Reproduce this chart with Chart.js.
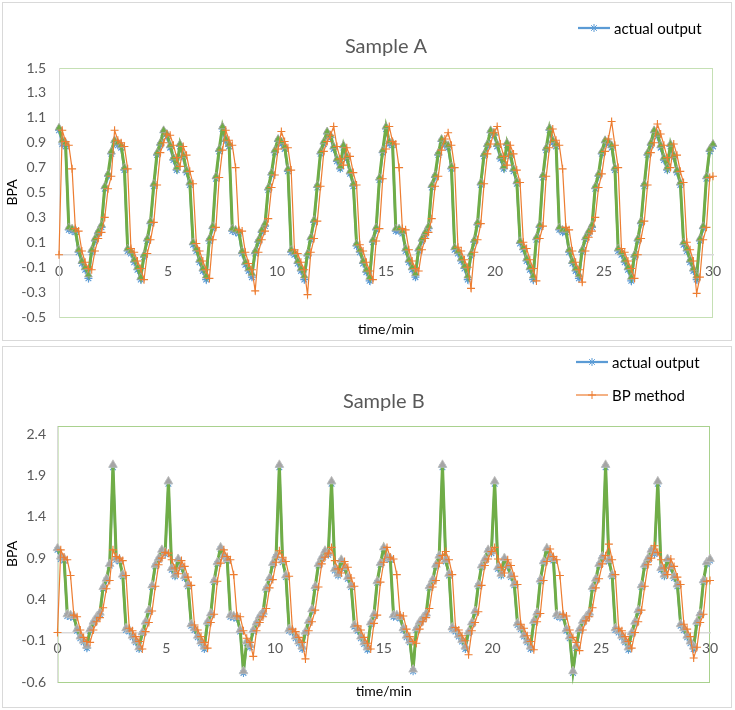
<!DOCTYPE html>
<html>
<head>
<meta charset="utf-8">
<script src="https://cdn.jsdelivr.net/npm/chart.js@4/dist/chart.umd.min.js"></script>
<style>
html,body{margin:0;padding:0;background:#fff;}
body{width:735px;height:710px;position:relative;overflow:hidden;font-family:Lato,"Liberation Sans",sans-serif;}
.panel{position:absolute;left:2px;width:728px;border:1px solid #d9d9d9;background:#fff;}
#pA{top:2px;height:337px;}
#pB{top:346px;height:360px;}
.panel canvas.chart{position:absolute;left:0;top:0;}
.legend{position:absolute;font-size:15px;color:#000;}
.legend .item{display:flex;align-items:center;height:20px;white-space:nowrap;}
.legend canvas{margin-right:4px;}
#legA{left:575px;top:15px;}
#legB{left:573px;top:5px;}
#legB .item{margin-bottom:13px;}
</style>
</head>
<body>
<div class="panel" id="pA">
  <canvas class="chart" id="cA" width="728" height="337"></canvas>
  <div class="legend" id="legA"></div>
</div>
<div class="panel" id="pB">
  <canvas class="chart" id="cB" width="728" height="360"></canvas>
  <div class="legend" id="legB"></div>
</div>
<script>
const time = [
0,0.15,0.3,0.45,0.6,0.75,0.9,1.05,1.2,1.35,1.5,1.65,1.8,1.95,2.1,2.25,2.4,2.55,2.7,2.85,3,3.15,3.3,3.45,3.6,3.75,3.9,4.05,4.2,4.35,4.5,4.65,4.8,4.95,5.1,5.25,5.4,5.55,5.7,5.85,6,6.15,6.3,6.45,6.6,6.75,6.9,7.05,7.2,7.35,
7.5,7.65,7.8,7.95,8.1,8.25,8.4,8.55,8.7,8.85,9,9.15,9.3,9.45,9.6,9.75,9.9,10.05,10.2,10.35,10.5,10.65,10.8,10.95,11.1,11.25,11.4,11.55,11.7,11.85,12,12.15,12.3,12.45,12.6,12.75,12.9,13.05,13.2,13.35,13.5,13.65,13.8,13.95,14.1,14.25,14.4,14.55,14.7,14.85,
15,15.15,15.3,15.45,15.6,15.75,15.9,16.05,16.2,16.35,16.5,16.65,16.8,16.95,17.1,17.25,17.4,17.55,17.7,17.85,18,18.15,18.3,18.45,18.6,18.75,18.9,19.05,19.2,19.35,19.5,19.65,19.8,19.95,20.1,20.25,20.4,20.55,20.7,20.85,21,21.15,21.3,21.45,21.6,21.75,21.9,22.05,22.2,22.35,
22.5,22.65,22.8,22.95,23.1,23.25,23.4,23.55,23.7,23.85,24,24.15,24.3,24.45,24.6,24.75,24.9,25.05,25.2,25.35,25.5,25.65,25.8,25.95,26.1,26.25,26.4,26.55,26.7,26.85,27,27.15,27.3,27.45,27.6,27.75,27.9,28.05,28.2,28.35,28.5,28.65,28.8,28.95,29.1,29.25,29.4,29.55,29.7,29.85,30];

const actualA = [
1.00,0.89,0.87,0.20,0.19,0.18,0.02,-0.07,-0.12,-0.19,
0.02,0.11,0.17,0.22,0.53,0.63,0.81,0.90,0.88,0.86,
0.68,0.03,0.01,-0.06,-0.12,-0.20,-0.02,0.11,0.25,0.55,
0.80,0.88,0.98,0.95,0.86,0.76,0.68,0.87,0.78,0.66,
0.56,0.08,0.03,-0.06,-0.13,-0.20,0.11,0.21,0.61,0.83,
1.01,0.91,0.87,0.19,0.18,0.17,0.01,-0.08,-0.13,-0.18,
0.01,0.10,0.18,0.23,0.52,0.64,0.82,0.91,0.89,0.85,
0.67,0.02,0.00,-0.07,-0.13,-0.20,-0.01,0.12,0.26,0.54,
0.81,0.89,0.97,0.94,0.85,0.75,0.69,0.86,0.77,0.65,
0.55,0.07,0.02,-0.07,-0.14,-0.21,0.10,0.20,0.60,0.82,
1.01,0.89,0.88,0.19,0.19,0.17,0.03,-0.06,-0.12,-0.18,
0.03,0.11,0.16,0.21,0.54,0.62,0.80,0.91,0.88,0.86,
0.69,0.04,0.01,-0.05,-0.11,-0.20,-0.01,0.10,0.24,0.56,
0.79,0.87,0.98,0.96,0.87,0.77,0.69,0.88,0.79,0.67,
0.57,0.09,0.04,-0.05,-0.12,-0.20,0.12,0.22,0.62,0.84,
1.00,0.90,0.87,0.20,0.18,0.18,0.02,-0.07,-0.13,-0.19,
0.02,0.12,0.17,0.22,0.53,0.63,0.81,0.90,0.89,0.86,
0.68,0.03,0.00,-0.06,-0.12,-0.21,-0.02,0.11,0.25,0.55,
0.80,0.88,0.98,0.95,0.86,0.76,0.68,0.87,0.78,0.66,
0.56,0.08,0.03,-0.06,-0.13,-0.20,0.11,0.21,0.61,0.83,
0.87];

const bpA = [
0.00,1.00,0.91,0.88,0.69,0.21,0.19,0.03,-0.06,-0.11,
-0.12,0.03,0.13,0.18,0.30,0.53,0.63,1.00,0.92,0.90,
0.87,0.69,0.05,0.02,-0.05,-0.11,-0.20,0.01,0.12,0.26,
0.56,0.82,0.90,0.97,0.96,0.88,0.78,0.71,0.87,0.80,
0.67,0.57,0.09,0.03,-0.05,-0.12,-0.19,0.12,0.22,0.62,
0.84,1.00,0.92,0.88,0.70,0.20,0.19,0.02,-0.07,-0.12,
-0.29,0.02,0.12,0.19,0.29,0.54,0.64,0.85,0.99,0.91,
0.86,0.68,0.04,0.01,-0.06,-0.12,-0.32,0.02,0.13,0.27,
0.55,0.83,0.91,0.96,1.03,0.87,0.77,0.72,0.86,0.79,
0.66,0.56,0.08,0.03,-0.06,-0.13,-0.20,0.11,0.21,0.61,
0.85,1.03,0.91,0.89,0.70,0.21,0.20,0.04,-0.05,-0.11,
-0.13,0.04,0.13,0.18,0.29,0.55,0.63,0.84,0.93,0.98,
0.88,0.70,0.06,0.03,-0.04,-0.10,-0.27,0.02,0.12,0.25,
0.57,0.81,0.89,0.98,1.03,0.89,0.79,0.72,0.88,0.81,
0.68,0.58,0.10,0.05,-0.04,-0.11,-0.21,0.13,0.23,0.63,
0.86,1.01,0.92,0.88,0.69,0.22,0.20,0.03,-0.06,-0.12,
-0.22,0.03,0.14,0.19,0.30,0.54,0.65,0.83,0.93,1.07,
0.88,0.70,0.05,0.02,-0.05,-0.11,-0.19,0.00,0.13,0.27,
0.56,0.82,0.90,1.05,0.97,0.88,0.78,0.70,0.89,0.80,
0.67,0.58,0.10,0.04,-0.05,-0.31,-0.18,0.12,0.22,0.62,
0.63];

const fittedA = [
1.02,0.92,0.90,0.22,0.21,0.20,0.04,-0.05,-0.10,-0.16,
0.04,0.13,0.19,0.24,0.55,0.65,0.83,0.92,0.90,0.88,
0.70,0.05,0.03,-0.04,-0.10,-0.18,0.00,0.13,0.27,0.57,
0.82,0.90,1.00,0.97,0.88,0.78,0.70,0.89,0.80,0.68,
0.58,0.10,0.05,-0.04,-0.11,-0.17,0.13,0.23,0.63,0.85,
1.03,0.93,0.89,0.21,0.20,0.19,0.03,-0.06,-0.11,-0.15,
0.03,0.12,0.20,0.25,0.54,0.66,0.84,0.93,0.91,0.87,
0.69,0.04,0.02,-0.05,-0.11,-0.17,0.01,0.14,0.28,0.56,
0.83,0.91,0.99,0.96,0.87,0.77,0.71,0.88,0.79,0.67,
0.57,0.09,0.04,-0.05,-0.12,-0.18,0.12,0.22,0.62,0.84,
1.03,0.91,0.90,0.21,0.21,0.19,0.05,-0.04,-0.10,-0.15,
0.05,0.13,0.18,0.23,0.56,0.64,0.82,0.93,0.90,0.88,
0.71,0.06,0.03,-0.03,-0.09,-0.17,0.01,0.12,0.26,0.58,
0.81,0.89,1.00,0.98,0.89,0.79,0.71,0.90,0.81,0.69,
0.59,0.11,0.06,-0.03,-0.10,-0.17,0.14,0.24,0.64,0.86,
1.02,0.92,0.89,0.22,0.20,0.20,0.04,-0.05,-0.11,-0.16,
0.04,0.14,0.19,0.24,0.55,0.65,0.83,0.92,0.91,0.88,
0.70,0.05,0.02,-0.04,-0.10,-0.18,0.00,0.13,0.27,0.57,
0.82,0.90,1.00,0.97,0.88,0.78,0.70,0.89,0.80,0.68,
0.58,0.10,0.05,-0.04,-0.11,-0.17,0.13,0.23,0.63,0.85,
0.89];

const actualB = [
1.00,0.89,0.87,0.20,0.19,0.18,0.02,-0.07,-0.12,-0.19,
0.02,0.11,0.17,0.22,0.53,0.63,0.81,2.00,0.88,0.86,
0.68,0.03,0.01,-0.06,-0.12,-0.20,-0.02,0.11,0.25,0.55,
0.80,0.88,0.98,0.95,1.80,0.76,0.68,0.87,0.78,0.66,
0.56,0.08,0.03,-0.06,-0.13,-0.20,0.11,0.21,0.61,0.83,
1.01,0.91,0.87,0.19,0.18,0.17,0.01,-0.49,-0.13,-0.18,
0.01,0.10,0.18,0.23,0.52,0.64,0.82,0.91,2.00,0.85,
0.67,0.02,0.00,-0.07,-0.13,-0.20,-0.01,0.12,0.26,0.54,
0.81,0.89,0.97,0.94,1.80,0.75,0.69,0.86,0.77,0.65,
0.55,0.07,0.02,-0.07,-0.14,-0.21,0.10,0.20,0.60,0.82,
1.01,0.89,0.88,0.19,0.19,0.17,0.03,-0.06,-0.12,-0.47,
0.03,0.11,0.16,0.21,0.54,0.62,0.80,0.91,2.00,0.86,
0.69,0.04,0.01,-0.05,-0.11,-0.20,-0.01,0.10,0.24,0.56,
0.79,0.87,0.98,0.96,1.80,0.77,0.69,0.88,0.79,0.67,
0.57,0.09,0.04,-0.05,-0.12,-0.20,0.12,0.22,0.62,0.84,
1.00,0.90,0.87,0.20,0.18,0.18,0.02,-0.07,-0.49,-0.19,
0.02,0.12,0.17,0.22,0.53,0.63,0.81,0.90,2.00,0.86,
0.68,0.03,0.00,-0.06,-0.12,-0.21,-0.02,0.11,0.25,0.55,
0.80,0.88,0.98,0.95,1.80,0.76,0.68,0.87,0.78,0.66,
0.56,0.08,0.03,-0.06,-0.13,-0.20,0.11,0.21,0.61,0.83,
0.87];

const bpB = [
0.00,1.00,0.91,0.88,0.69,0.21,0.19,0.03,-0.06,-0.11,
-0.12,0.03,0.13,0.18,0.30,0.53,0.63,1.00,0.92,0.90,
0.87,0.69,0.05,0.02,-0.05,-0.11,-0.20,0.01,0.12,0.26,
0.56,0.82,0.90,0.97,0.96,0.88,0.78,0.71,0.87,0.80,
0.67,0.57,0.09,0.03,-0.05,-0.12,-0.19,0.12,0.22,0.62,
0.84,1.00,0.92,0.88,0.70,0.20,0.19,0.02,-0.07,-0.12,
-0.29,0.02,0.12,0.19,0.29,0.54,0.64,0.85,0.99,0.91,
0.86,0.68,0.04,0.01,-0.06,-0.12,-0.32,0.02,0.13,0.27,
0.55,0.83,0.91,0.96,1.03,0.87,0.77,0.72,0.86,0.79,
0.66,0.56,0.08,0.03,-0.06,-0.13,-0.20,0.11,0.21,0.61,
0.85,1.03,0.91,0.89,0.70,0.21,0.20,0.04,-0.05,-0.11,
-0.13,0.04,0.13,0.18,0.29,0.55,0.63,0.84,0.93,0.98,
0.88,0.70,0.06,0.03,-0.04,-0.10,-0.27,0.02,0.12,0.25,
0.57,0.81,0.89,0.98,1.03,0.89,0.79,0.72,0.88,0.81,
0.68,0.58,0.10,0.05,-0.04,-0.11,-0.21,0.13,0.23,0.63,
0.86,1.01,0.92,0.88,0.69,0.22,0.20,0.03,-0.06,-0.12,
-0.22,0.03,0.14,0.19,0.30,0.54,0.65,0.83,0.93,1.07,
0.88,0.70,0.05,0.02,-0.05,-0.11,-0.19,0.00,0.13,0.27,
0.56,0.82,0.90,1.05,0.97,0.88,0.78,0.70,0.89,0.80,
0.67,0.58,0.10,0.04,-0.05,-0.31,-0.18,0.12,0.22,0.62,
0.63];

const fittedB = [
1.02,0.92,0.90,0.22,0.21,0.20,0.04,-0.05,-0.10,-0.16,
0.04,0.13,0.19,0.24,0.55,0.65,0.83,2.03,0.90,0.88,
0.70,0.05,0.03,-0.04,-0.10,-0.18,0.00,0.13,0.27,0.57,
0.82,0.90,1.00,0.97,1.83,0.78,0.70,0.89,0.80,0.68,
0.58,0.10,0.05,-0.04,-0.11,-0.17,0.13,0.23,0.63,0.85,
1.03,0.93,0.89,0.21,0.20,0.19,0.03,-0.47,-0.11,-0.15,
0.03,0.12,0.20,0.25,0.54,0.66,0.84,0.93,2.03,0.87,
0.69,0.04,0.02,-0.05,-0.11,-0.17,0.01,0.14,0.28,0.56,
0.83,0.91,0.99,0.96,1.83,0.77,0.71,0.88,0.79,0.67,
0.57,0.09,0.04,-0.05,-0.12,-0.18,0.12,0.22,0.62,0.84,
1.03,0.91,0.90,0.21,0.21,0.19,0.05,-0.04,-0.10,-0.45,
0.05,0.13,0.18,0.23,0.56,0.64,0.82,0.93,2.03,0.88,
0.71,0.06,0.03,-0.03,-0.09,-0.17,0.01,0.12,0.26,0.58,
0.81,0.89,1.00,0.98,1.83,0.79,0.71,0.90,0.81,0.69,
0.59,0.11,0.06,-0.03,-0.10,-0.17,0.14,0.24,0.64,0.86,
1.02,0.92,0.89,0.22,0.20,0.20,0.04,-0.05,-0.47,-0.16,
0.04,0.14,0.19,0.24,0.55,0.65,0.83,0.92,2.03,0.88,
0.70,0.05,0.02,-0.04,-0.10,-0.18,0.00,0.13,0.27,0.57,
0.82,0.90,1.00,0.97,1.83,0.78,0.70,0.89,0.80,0.68,
0.58,0.10,0.05,-0.04,-0.11,-0.17,0.13,0.23,0.63,0.85,
0.89];

const xTicks = [0,5,10,15,20,25,30];
const yTicksA = [-0.5,-0.3,-0.1,0.1,0.3,0.5,0.7,0.9,1.1,1.3,1.5];
const yTicksB = [-0.6,-0.1,0.4,0.9,1.4,1.9,2.4];

const FONT = 'Lato, "Liberation Sans", sans-serif';

const framePlugin = {
  id: 'frame',
  beforeDraw(chart, args, opts) {
    const a = chart.chartArea, c = chart.ctx;
    c.save();
    c.strokeStyle = opts.color;
    c.lineWidth = 1;
    c.strokeRect(a.left + 0.5, a.top + 0.5, a.right - a.left - 1, a.bottom - a.top);
    c.restore();
  }
};

function buildChart(id, o) {
  return new Chart(document.getElementById(id), {
    type: 'line',
    data: {
      labels: time,
      datasets: [
        {label: 'BP method', data: o.bp, borderColor: '#ED7D31', backgroundColor: '#ED7D31', borderWidth: 1.2,
         pointStyle: 'cross', pointRadius: 4, pointBorderColor: '#ED7D31', pointBorderWidth: 1.1, order: 0, clip: false},
        {label: 'proposed method', data: o.fit, borderColor: '#70AD47', backgroundColor: '#70AD47', borderWidth: 3,
         pointStyle: 'triangle', pointRadius: o.triR, pointBackgroundColor: o.triFill, pointBorderColor: o.triEdge,
         pointBorderWidth: 0.8, order: 1, clip: false},
        {label: 'actual output', data: o.actual, borderColor: '#5B9BD5', backgroundColor: '#5B9BD5', borderWidth: 2.25,
         pointStyle: 'star', pointRadius: 4, pointBorderColor: '#5B9BD5', pointBorderWidth: 1.1, order: 2, clip: false}
      ]
    },
    options: {
      responsive: false, animation: false, events: [],
      elements: {line: {tension: 0}},
      layout: {padding: {left: 0, right: o.padR, top: 0, bottom: 0}},
      plugins: {
        legend: {display: false},
        tooltip: {enabled: false},
        frame: {color: o.frame},
        title: {display: true, text: o.title, color: '#595959', fullSize: false,
                font: {family: FONT, size: 20, weight: 'normal'},
                padding: {top: o.titleTop, bottom: o.titleBottom}}
      },
      scales: {
        x: {type: 'linear', position: {y: 0}, min: 0, max: 30,
            afterBuildTicks: s => { s.ticks = xTicks.map(v => ({value: v})); },
            ticks: {color: '#595959', font: {family: FONT, size: 14}, padding: 8, maxRotation: 0, autoSkip: false,
                    callback: v => String(v)},
            grid: {display: false, drawTicks: false},
            border: {display: true, color: '#d9d9d9', width: 1.5}},
        xt: {type: 'linear', axis: 'x', position: 'bottom', min: 0, max: 30,
             ticks: {display: false}, grid: {display: false, drawTicks: false}, border: {display: false},
             title: {display: true, text: 'time/min', color: '#000', font: {family: FONT, size: 14},
                     padding: {top: o.xtTop, bottom: o.xtBottom}}},
        y: {type: 'linear', position: 'left', min: o.yMin, max: o.yMax,
            afterBuildTicks: s => { s.ticks = o.yTicks.map(v => ({value: v})); },
            afterFit: s => { s.width = o.yW; },
            ticks: {color: '#595959', font: {family: FONT, size: 14}, padding: o.yPad, autoSkip: false,
                    callback: v => Number(v).toFixed(1)},
            grid: {display: false, drawTicks: false},
            border: {display: true, color: '#d9d9d9', width: 1},
            title: {display: true, text: 'BPA', color: '#000', font: {family: FONT, size: 14},
                    padding: {top: 1, bottom: 0}}}
      }
    },
    plugins: [framePlugin]
  });
}

function drawIcon(cv, ds) {
  const g = cv.getContext('2d');
  const cy = cv.height / 2, cx = cv.width / 2;
  g.strokeStyle = ds.borderColor;
  g.lineWidth = ds.borderWidth;
  g.beginPath(); g.moveTo(0, cy); g.lineTo(cv.width, cy); g.stroke();
  g.lineWidth = 1;
  const r = 4;
  const angles = ds.pointStyle === 'star' ? [0, 45, 90, 135] : [0, 90];
  g.beginPath();
  angles.forEach(d => {
    const t = d * Math.PI / 180;
    g.moveTo(cx - r * Math.cos(t), cy - r * Math.sin(t));
    g.lineTo(cx + r * Math.cos(t), cy + r * Math.sin(t));
  });
  g.stroke();
}

function htmlLegend(chart, elId, labels) {
  const el = document.getElementById(elId);
  labels.forEach(lbl => {
    const ds = chart.data.datasets.find(d => d.label === lbl);
    const item = document.createElement('div');
    item.className = 'item';
    const cv = document.createElement('canvas');
    cv.width = 32; cv.height = 12;
    drawIcon(cv, ds);
    const sp = document.createElement('span');
    sp.textContent = ds.label;
    item.appendChild(cv); item.appendChild(sp);
    el.appendChild(item);
  });
}

const chartA = buildChart('cA', {
  actual: actualA, bp: bpA, fit: fittedA, title: 'Sample A',
  yMin: -0.5, yMax: 1.5, yTicks: yTicksA, yW: 56, yPad: 13, padR: 18,
  titleTop: 31.5, titleBottom: 9.5, xtTop: 4.4, xtBottom: 1.8,
  triR: 4.4, triFill: '#70AD47', triEdge: '#A5A5A5', frame: '#C5E0B4'
});
const chartB = buildChart('cB', {
  actual: actualB, bp: bpB, fit: fittedB, title: 'Sample B',
  yMin: -0.6, yMax: 2.5, yTicks: yTicksB, yW: 54.5, yPad: 11.5, padR: 21,
  titleTop: 43, titleBottom: 12, xtTop: 1.4, xtBottom: 6.8,
  triR: 5, triFill: '#A5A5A5', triEdge: '#BFBFBF', frame: '#A9D18E'
});
htmlLegend(chartA, 'legA', ['actual output']);
htmlLegend(chartB, 'legB', ['actual output', 'BP method']);
</script>
</body>
</html>
